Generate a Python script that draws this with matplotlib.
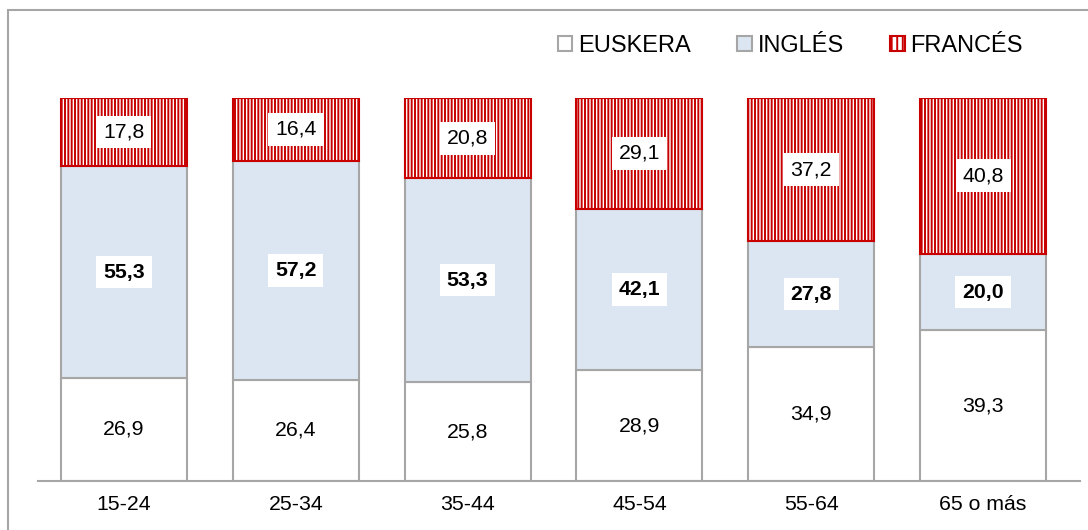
import matplotlib
matplotlib.use("Agg")
import matplotlib.pyplot as plt
from matplotlib.patches import Patch, Rectangle

plt.rcParams["font.family"] = ["Liberation Sans", "DejaVu Sans"]
plt.rcParams["hatch.linewidth"] = 1.4

categories = ["15-24", "25-34", "35-44", "45-54", "55-64", "65 o más"]
euskera = [26.9, 26.4, 25.8, 28.9, 34.9, 39.3]
ingles = [55.3, 57.2, 53.3, 42.1, 27.8, 20.0]
frances = [17.8, 16.4, 20.8, 29.1, 37.2, 40.8]
series_names = ["EUSKERA", "INGLÉS", "FRANCÉS"]

GRAY = "#a6a6a6"
RED = "#c80000"
BLUE = "#dce6f2"
FS = 15.3


def fmt(v):
    return f"{v:.1f}".replace(".", ",")


fig = plt.figure(figsize=(10.88, 5.30), dpi=100)
ax = fig.add_axes([38 / 1088, 1 - 481 / 530, 1042 / 1088, (481 - 98) / 530])

x = list(range(len(categories)))
width = 0.733
bottom_ing = euskera
bottom_fr = [e + i for e, i in zip(euskera, ingles)]

ax.bar(x, euskera, width, color="white", edgecolor=GRAY, linewidth=1.5, zorder=2)
ax.bar(x, ingles, width, bottom=bottom_ing, color=BLUE, edgecolor=GRAY, linewidth=1.5, zorder=2)
ax.bar(x, frances, width, bottom=bottom_fr, color="white", edgecolor=RED, linewidth=1.5,
       hatch="|||||", zorder=2)

box = dict(boxstyle="square,pad=0.32", fc="white", ec="none")
for i in x:
    ax.text(i, euskera[i] / 2, fmt(euskera[i]), ha="center", va="center",
            fontsize=FS, bbox=box, zorder=3)
    ax.text(i, bottom_ing[i] + ingles[i] / 2, fmt(ingles[i]), ha="center", va="center",
            fontsize=FS, fontweight="bold", bbox=box, zorder=3)
    ax.text(i, bottom_fr[i] + frances[i] / 2, fmt(frances[i]), ha="center", va="center",
            fontsize=FS, bbox=box, zorder=3)

ax.set_xlim(-0.5, 5.564)
ax.set_ylim(0, 100)
ax.set_xticks(x)
ax.set_xticklabels(categories, fontsize=FS)
ax.tick_params(axis="x", length=0, pad=10)
ax.set_yticks([])
for side in ["top", "right", "left"]:
    ax.spines[side].set_visible(False)
ax.spines["bottom"].set_color(GRAY)
ax.spines["bottom"].set_linewidth(1.5)

handles = [
    Patch(facecolor="white", edgecolor=GRAY, linewidth=1.5),
    Patch(facecolor=BLUE, edgecolor=GRAY, linewidth=1.5),
    Patch(facecolor="white", edgecolor=RED, linewidth=1.5, hatch="|||"),
]
fig.legend(handles, series_names, loc="center right", bbox_to_anchor=(1023 / 1088, 1 - 46 / 530),
           ncol=3, frameon=False, fontsize=17, handlelength=0.62, handleheight=0.62,
           handletextpad=0.25, columnspacing=1.95, borderaxespad=0, borderpad=0)

# outer frame
fig.patches.append(Rectangle((8 / 1088, -0.1), 1.2, 1 - 10 / 530 + 0.1, transform=fig.transFigure,
                             fill=False, edgecolor=GRAY, linewidth=1.5, zorder=0))

fig.savefig("out.png", dpi=100)
